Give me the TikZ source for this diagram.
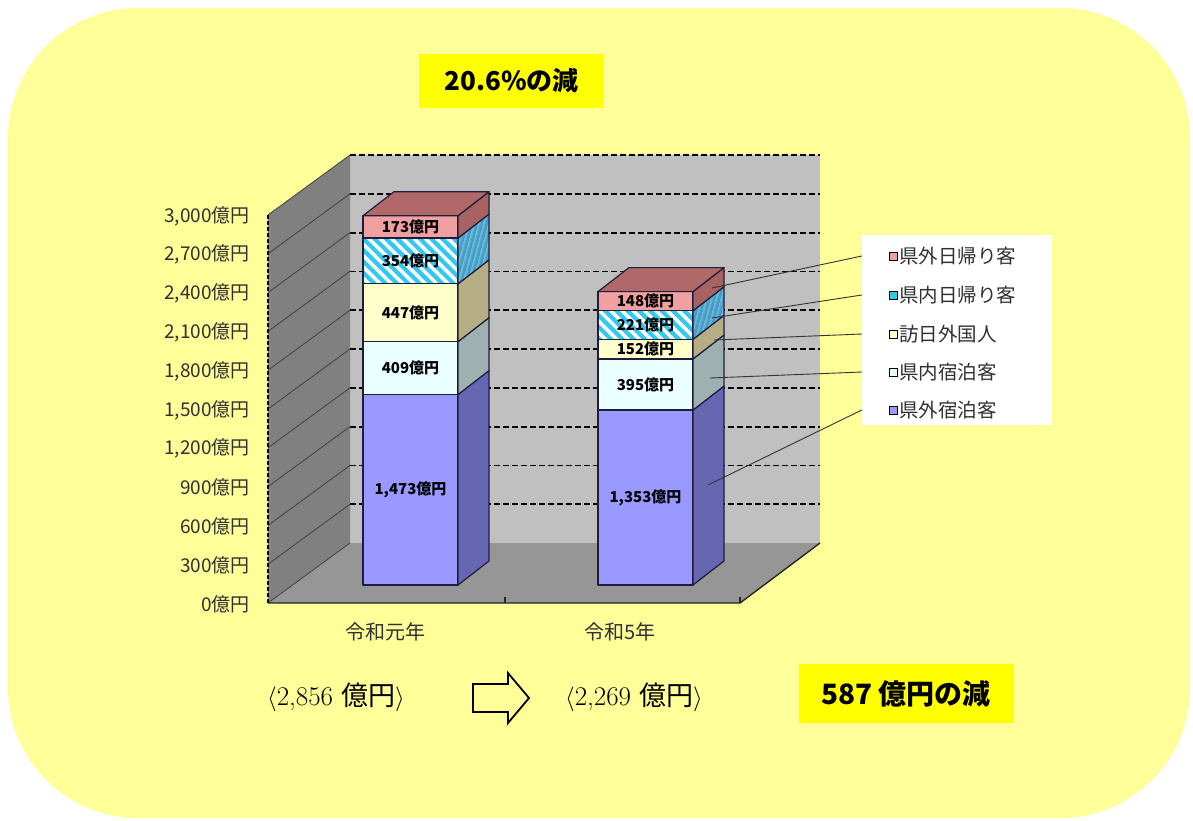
\documentclass[tikz,border=0pt]{standalone}
\usepackage{fontspec}
\newfontfamily\jpfont{Noto Sans CJK JP}
\usetikzlibrary{patterns.meta}
\definecolor{bgyellow}{HTML}{FFFF99}
\definecolor{hlyellow}{HTML}{FFFF00}
\definecolor{wallback}{HTML}{C0C0C0}
\definecolor{wallleft}{HTML}{808080}
\definecolor{floorgray}{HTML}{969696}
\definecolor{barnavy}{HTML}{1E1E3C}
\definecolor{axgray}{HTML}{303030}
\definecolor{gsfront}{HTML}{9999FF}
\definecolor{gsside}{HTML}{6666B3}
\definecolor{nsfront}{HTML}{EAFFFF}
\definecolor{nsside}{HTML}{9FB0B0}
\definecolor{hgfront}{HTML}{FFFFCC}
\definecolor{hgside}{HTML}{B5AE85}
\definecolor{ndbase}{HTML}{33C8F0}
\definecolor{ndside}{HTML}{4A9CC4}
\definecolor{gdfront}{HTML}{F0A0A0}
\definecolor{gdside}{HTML}{A86262}
\definecolor{gdtopc}{HTML}{B06868}

\begin{document}
\begin{tikzpicture}[x=1pt,y=-1pt]
\tikzstyle{every node}=[font=\jpfont, inner sep=0pt]
\tikzstyle{gridline}=[black, line width=1.8pt, dash pattern=on 6pt off 3pt]
\tikzstyle{wallline}=[black!75, line width=0.8pt]
\tikzstyle{barline}=[draw=barnavy, line width=1.2pt, line join=round]
\tikzstyle{barlab}=[font=\jpfont\bfseries\fontsize{15}{15}\selectfont]
\tikzstyle{axlab}=[anchor=east, text=axgray, font=\jpfont\fontsize{19}{19}\selectfont]
\tikzstyle{catlab}=[text=axgray, font=\jpfont\fontsize{20}{20}\selectfont]
\tikzstyle{leglab}=[anchor=west, text=axgray, font=\jpfont\fontsize{19.5}{19.5}\selectfont]
\tikzstyle{sumlab}=[font=\rmfamily\fontsize{27}{27}\selectfont]
\tikzstyle{hlbox}=[fill=hlyellow, font=\jpfont\bfseries\fontsize{26}{26}\selectfont]
\tikzstyle{leader}=[black!80, line width=0.9pt]
\tikzstyle{gsf}=[fill=gsfront] \tikzstyle{gss}=[fill=gsside]
\tikzstyle{nsf}=[fill=nsfront] \tikzstyle{nss}=[fill=nsside]
\tikzstyle{hgf}=[fill=hgfront] \tikzstyle{hgs}=[fill=hgside]
\tikzstyle{ndf}=[preaction={fill=ndbase}, pattern={Lines[angle=-45,distance=8pt,line width=3.5pt]}, pattern color=white]
\tikzstyle{nds}=[preaction={fill=ndside}, pattern={Lines[angle=75,distance=4pt,line width=1pt]}, pattern color=ndbase!70]
\tikzstyle{gdf}=[fill=gdfront] \tikzstyle{gds}=[fill=gdside]

\useasboundingbox (0,0) rectangle (1193,820);
\fill[bgyellow, rounded corners=130pt] (8,8) rectangle (1190,818);

% walls and floor
\fill[wallback] (350,155) rectangle (820,543);
\fill[wallleft] (268,215) -- (350,155) -- (350,543) -- (268,603) -- cycle;
\fill[floorgray] (268,603) -- (350,543) -- (820,543) -- (740,603) -- cycle;
\foreach \i in {0,...,9} {
  \draw[gridline] (350,155+38.8*\i) -- (820,155+38.8*\i);
}
\foreach \i in {0,...,10} {
  \draw[wallline] (268,215+38.8*\i) -- (350,155+38.8*\i);
}
\draw[black, line width=1.4pt, dash pattern=on 4pt off 2pt] (268,215) -- (268,603);
\draw[black!85, line width=1.4pt] (268,603) -- (740,603) -- (820,543);
\draw[black!85, line width=1.2pt] (505,603) -- (505,597) (740,603) -- (740,597);

% axis
\foreach \lab [count=\i from 0] in {{3,000},{2,700},{2,400},{2,100},{1,800},{1,500},{1,200},900,600,300,0}
  \node[axlab] (ax\i) at (250,216+38.8*\i) {\lab 億円};
\node[catlab] (cat1) at (385,632) {令和元年};
\node[catlab] (cat2) at (620,632) {令和5年};

% bars
\foreach \bx/\lo/\hi/\fc/\sc/\lab/\nm in {
  363/0/1473/gsf/gss/{1,473億円}/b1a, 363/1473/1882/nsf/nss/409億円/b1b,
  363/1882/2329/hgf/hgs/447億円/b1c, 363/2329/2683/ndf/nds/354億円/b1d,
  363/2683/2856/gdf/gds/173億円/b1e,
  598/0/1353/gsf/gss/{1,353億円}/b2a, 598/1353/1748/nsf/nss/395億円/b2b,
  598/1748/1900/hgf/hgs/152億円/b2c, 598/1900/2121/ndf/nds/221億円/b2d,
  598/2121/2269/gdf/gds/148億円/b2e} {
  \pgfmathsetmacro\ya{585-0.1293*\lo}
  \pgfmathsetmacro\yb{585-0.1293*\hi}
  \draw[barline,\fc] (\bx,\ya) rectangle (\bx+95,\yb);
  \draw[barline,\sc] (\bx+95,\ya) -- ++(31,-24) -- (\bx+126,\yb-24) -- (\bx+95,\yb) -- cycle;
  \node[barlab] (\nm) at (\bx+47.5,{(\ya+\yb)/2}) {\lab};
}
\draw[barline,fill=gdtopc] (363,215.7) -- ++(31,-24) -- ++(95,0) -- ++(-31,24) -- cycle;
\draw[barline,fill=gdtopc] (598,291.6) -- ++(31,-24) -- ++(95,0) -- ++(-31,24) -- cycle;

% legend
\node[fill=white, minimum width=190pt, minimum height=190pt] (legbox) at (957,330) {};
\foreach \lab/\c/\y [count=\k] in {県外日帰り客/gdfront/256, 県内日帰り客/ndbase/295,
  訪日外国人/hgfront/334, 県内宿泊客/nsfront/372, 県外宿泊客/gsfront/410} {
  \draw[black, line width=1pt, fill=\c] (889,\y-4) rectangle (897,\y+4);
  \node[leglab] (lg\k) at (899,\y) {\lab};
}
\coordinate (c1) at (712,288);
\coordinate (c2) at (712,318);
\coordinate (c3) at (714,340);
\coordinate (c4) at (710,378);
\coordinate (c5) at (708,485);
\foreach \k in {1,...,5}
  \draw[leader] (lg\k.west -| legbox.west) -- (c\k);

% totals
\node[hlbox, minimum width=185pt, minimum height=54pt] (dec1) at (511.5,81) {20.6\%の減};
\node[hlbox, minimum width=215pt, minimum height=59pt, font=\jpfont\bfseries\fontsize{28}{28}\selectfont] (dec2) at (906,693.5) {587 億円の減};
\node[sumlab] (sum1) at (336,697) {$\langle$2,856 {\jpfont 億円}$\rangle$};
\node[sumlab] (sum2) at (634,697) {$\langle$2,269 {\jpfont 億円}$\rangle$};
\draw[black, line width=1.8pt, line join=miter] (473,684) -- (508,684) -- (508,673) -- (529,698) -- (508,723) -- (508,712) -- (473,712) -- cycle;

\end{tikzpicture}
\end{document}
